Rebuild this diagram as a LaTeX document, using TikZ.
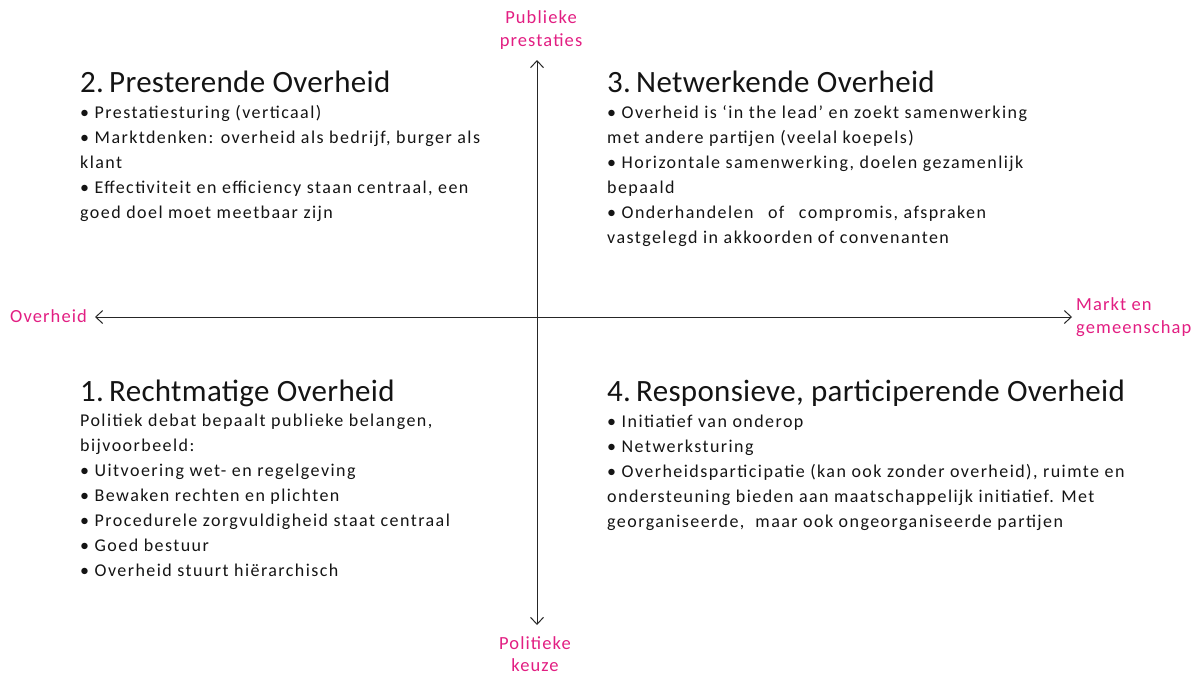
\documentclass[tikz,border=0pt]{standalone}
\usepackage{fontspec}
\setmainfont{Carlito}
\newfontfamily\bodyfont[LetterSpace=8]{Carlito}
\newfontfamily\labfont[LetterSpace=6]{Carlito}
\newfontfamily\ttlfont[LetterSpace=1]{Carlito}
\usetikzlibrary{arrows.meta}
\definecolor{pinklab}{RGB}{226,30,130}
\definecolor{txt}{RGB}{20,20,20}
\tikzset{
  body/.style={anchor=base west, inner sep=0pt, text=txt, font=\bodyfont\fontsize{18}{21}\selectfont},
  ttl/.style={anchor=base west, inner sep=0pt, text=txt, font=\ttlfont\fontsize{31}{36}\selectfont},
  lab/.style={inner sep=0pt, text=pinklab, font=\labfont\fontsize{18.5}{22}\selectfont},
  axis/.style={draw=black!85, line width=1pt, {Straight Barb[length=7pt,width=13pt]}-{Straight Barb[length=7pt,width=13pt]}}
}
\begin{document}
\begin{tikzpicture}[x=1pt,y=-1pt]
\useasboundingbox (0,0) rectangle (1198,675);
% axes
\coordinate (top) at (537,60);
\coordinate (bot) at (537,625);
\coordinate (lft) at (95,317);
\coordinate (rgt) at (1072,317);
\draw[axis] (bot) -- (top);
\draw[axis] (lft) -- (rgt);
% axis labels
\node[lab, anchor=base] (pub1) at (541,23) {Publieke};
\node[lab, anchor=base] (pub2) at (541,46) {prestaties};
\node[lab, anchor=base west] (ovh) at (10,322) {Overheid};
\node[lab, anchor=base west] (mkt1) at (1076,310) {Markt en};
\node[lab, anchor=base west] (mkt2) at (1076,333) {gemeenschap};
\node[lab, anchor=base] (pol1) at (535,649) {Politieke};
\node[lab, anchor=base] (pol2) at (535,671) {keuze};
% Quadrant 2
\node[ttl] (t2) at (80,92) {2.\,Presterende Overheid};
\foreach \t [count=\i] in {{• Prestatiesturing (verticaal)},
  {• Marktdenken: overheid als bedrijf, burger als},
  {klant},
  {• Effectiviteit en efficiency staan centraal, een},
  {goed doel moet meetbaar zijn}}
  \node[body] (q2l\i) at (80,118+25*\i-25) {\t};
% Quadrant 3
\node[ttl] (t3) at (607,92) {3.\,Netwerkende Overheid};
\foreach \t [count=\i] in {{• Overheid is ‘in the lead’ en zoekt samenwerking},
  {met andere partijen (veelal koepels)},
  {• Horizontale samenwerking, doelen gezamenlijk},
  {bepaald},
  {• Onderhandelen\hspace{9pt} of\hspace{9pt} compromis, afspraken},
  {vastgelegd in akkoorden of convenanten}}
  \node[body] (q3l\i) at (607,118+25*\i-25) {\t};
% Quadrant 1
\node[ttl] (t1) at (80,401) {1.\,Rechtmatige Overheid};
\foreach \t [count=\i] in {{Politiek debat bepaalt publieke belangen,},
  {bijvoorbeeld:},
  {• Uitvoering wet- en regelgeving},
  {• Bewaken rechten en plichten},
  {• Procedurele zorgvuldigheid staat centraal},
  {• Goed bestuur},
  {• Overheid stuurt hiërarchisch}}
  \node[body] (q1l\i) at (80,426+25*\i-25) {\t};
% Quadrant 4
\node[ttl] (t4) at (607,401) {4.\,Responsieve, participerende Overheid};
\foreach \t [count=\i] in {{• Initiatief van onderop},
  {• Netwerksturing},
  {• Overheidsparticipatie (kan ook zonder overheid), ruimte en},
  {ondersteuning bieden aan maatschappelijk initiatief. Met},
  {georganiseerde, \ maar ook ongeorganiseerde partijen}}
  \node[body] (q4l\i) at (607,427+25*\i-25) {\t};
\end{tikzpicture}
\end{document}
